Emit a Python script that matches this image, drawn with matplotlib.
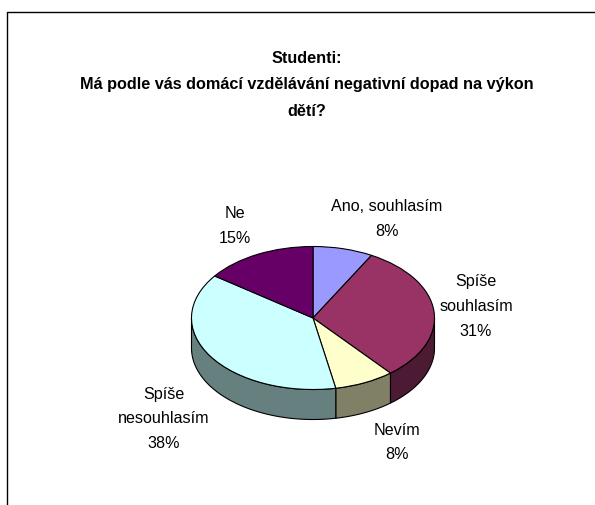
import numpy as np
import matplotlib
matplotlib.use("Agg")
import matplotlib.pyplot as plt
from matplotlib.lines import Line2D
from matplotlib.patches import Polygon

categories = ["Ano, souhlasím", "Spíše\nsouhlasím", "Nevím", "Spíše\nnesouhlasím", "Ne"]
values = [8, 31, 8, 38, 15]
top_colors = ["#9999FF", "#993366", "#FFFFCC", "#CCFFFF", "#660066"]
side_colors = ["#4D4D80", "#4D1A33", "#808066", "#668080", "#330033"]
title_lines = ["Studenti:", "Má podle vás domácí vzdělávání negativní dopad na výkon", "dětí?"]

W, H = 595, 506
CX, CY, RX, RY, DEPTH = 313, 319, 121.5, 71.5, 30

plt.rcParams["font.family"] = ["Liberation Sans", "DejaVu Sans"]
fig = plt.figure(figsize=(W / 100, H / 100), dpi=100, facecolor="white")
ax = fig.add_axes([0, 0, 1, 1])

ax.pie(values, colors=top_colors, startangle=90, counterclock=False, radius=1,
       wedgeprops=dict(edgecolor="black", linewidth=0.8, zorder=3))
ax.set_aspect("auto")
ax.set_xlim(-CX / RX, (W - CX) / RX)
ax.set_ylim((CY - H) / RY, CY / RY)
ax.axis("off")

# Rim of the disc: only the part of each slice facing the viewer is visible
drop = DEPTH / RY
edges = np.cumsum([0] + values) / sum(values) * 360
for start, stop, color in zip(edges[:-1], edges[1:], side_colors):
    a, b = max(start, 90), min(stop, 270)
    if a >= b:
        continue
    t = np.radians(np.linspace(a, b, 80))
    x, y = np.sin(t), np.cos(t)
    outline = np.r_[np.c_[x, y], np.c_[x, y - drop][::-1]]
    ax.add_patch(Polygon(outline, closed=True, facecolor=color, edgecolor="black",
                         linewidth=0.8, zorder=1))


def px_text(x, y, s, **kw):
    fig.text(x / W, 1 - y / H, s, ha="center", va="center", color="black", **kw)


for y, line in zip((58.5, 84.5, 111), title_lines):
    px_text(307, y, line, fontsize=11.7, fontweight="bold")

label_pos = [(387, 219), (476, 306.5), (397, 442.5), (164, 419), (235, 226)]
for (x, y), cat, val in zip(label_pos, categories, values):
    px_text(x, y, f"{cat}\n{val}%", fontsize=11.6, linespacing=1.83)

# Open frame: only the top and left borders are drawn
fig.add_artist(Line2D([7 / W, 7 / W, 1], [0, 1 - 12.5 / H, 1 - 12.5 / H],
                      transform=fig.transFigure, color="black", linewidth=1.0))

fig.savefig("out.png", dpi=100, facecolor="white")
